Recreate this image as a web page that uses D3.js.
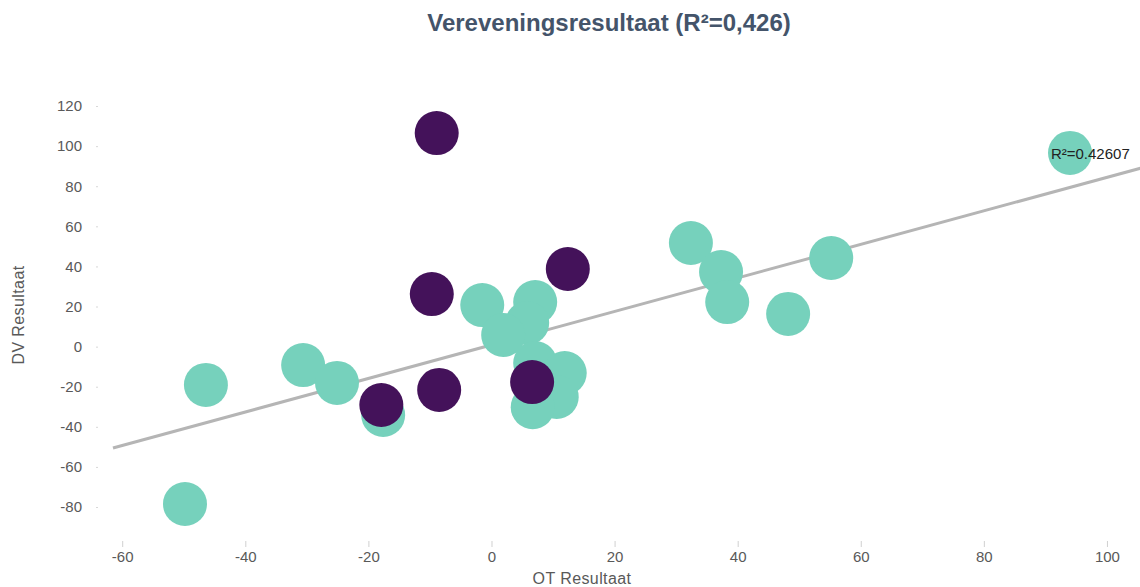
<!DOCTYPE html>
<html>
<head>
<meta charset="utf-8">
<script src="https://cdn.jsdelivr.net/npm/d3@7"></script>
<style>
    body { margin: 0; background: #fff; }
    svg { display: block; font-family: Arial, "Liberation Sans", sans-serif; }
</style>
</head>
<body>
<script>
// OT Resultaat (x), DV Resultaat (y)
const tealX = [94.0, 32.4, 37.3, 38.3, 55.2, 48.2, -1.5, 7.1, 5.8, 1.9, 7.1, 11.9, 10.6, 6.7, -30.6, -25.1, -46.4, -17.6, -49.8];
const tealY = [96.6, 51.7, 37.2, 22.2, 44.2, 16.3, 20.7, 22.2, 11.8, 5.8, -8.2, -13.2, -25.1, -30.2, -9.2, -18.1, -19.1, -34.1, -78.5];
const purpleX = [-8.9, -9.7, 12.4, -17.9, -8.5, 6.6];
const purpleY = [106.5, 26.2, 38.7, -29.1, -21.6, -17.7];

const xTicks = [-60, -40, -20, 0, 20, 40, 60, 80, 100];
const yTicks = [-80, -60, -40, -20, 0, 20, 40, 60, 80, 100, 120];

// trendline
const trendSlope = 0.836;
const trendIntercept = 0.83;
const trendFrom = -61.5, trendTo = 105.5;
const rSquaredLabel = "R²=0.42607";
const rSquaredAt = [97.3, 96];

const titleText = "Vereveningsresultaat (R²=0,426)";

const width = 1140, height = 587;

const svg = d3.select("body").append("svg")
    .attr("width", width)
    .attr("height", height);

const x = d3.scaleLinear()
    .domain([-62, 105.5])
    .range([109.9, 1140.8]);

const y = d3.scaleLinear()
    .domain([-95, 125])
    .range([537.1, 96]);

// plain hyphen for negatives, like the original
const fmt = d => String(d);

// title
svg.append("text")
    .attr("x", 609)
    .attr("y", 31)
    .attr("text-anchor", "middle")
    .attr("font-size", 24)
    .attr("font-weight", "bold")
    .attr("fill", "#44546A")
    .text(titleText);

// axes
const gx = svg.append("g")
    .attr("transform", "translate(0,541)")
    .call(d3.axisBottom(x).tickValues(xTicks).tickSize(6).tickPadding(4).tickFormat(fmt));
gx.select(".domain").remove();
gx.selectAll("line").attr("stroke", "#d0d0d0");
gx.selectAll("text")
    .attr("font-size", 15)
    .attr("fill", "#595959")
    .attr("font-family", "Arial, 'Liberation Sans', sans-serif");

const gy = svg.append("g")
    .attr("transform", "translate(98,0)")
    .call(d3.axisLeft(y).tickValues(yTicks).tickSize(2).tickPadding(14).tickFormat(fmt));
gy.select(".domain").remove();
gy.selectAll("line").attr("stroke", "#d8d8d8");
gy.selectAll("text")
    .attr("font-size", 15)
    .attr("fill", "#595959")
    .attr("font-family", "Arial, 'Liberation Sans', sans-serif");

// axis titles
svg.append("text")
    .attr("x", 582)
    .attr("y", 584)
    .attr("text-anchor", "middle")
    .attr("font-size", 16)
    .attr("letter-spacing", 0.4)
    .attr("fill", "#595959")
    .text("OT Resultaat");

svg.append("text")
    .attr("transform", "translate(24,315) rotate(-90)")
    .attr("text-anchor", "middle")
    .attr("font-size", 16)
    .attr("letter-spacing", 0.4)
    .attr("fill", "#595959")
    .text("DV Resultaat");

// trendline
svg.append("line")
    .attr("x1", x(trendFrom))
    .attr("y1", y(trendSlope * trendFrom + trendIntercept))
    .attr("x2", x(trendTo))
    .attr("y2", y(trendSlope * trendTo + trendIntercept))
    .attr("stroke", "#b5b5b5")
    .attr("stroke-width", 3);

// points
const teal = tealX.map((d, i) => ({x: d, y: tealY[i]}));
const purple = purpleX.map((d, i) => ({x: d, y: purpleY[i]}));

svg.append("g").selectAll("circle")
    .data(teal)
    .enter()
    .append("circle")
    .attr("cx", d => x(d.x))
    .attr("cy", d => y(d.y))
    .attr("r", 22)
    .attr("fill", "#76D1BC");

svg.append("g").selectAll("circle")
    .data(purple)
    .enter()
    .append("circle")
    .attr("cx", d => x(d.x))
    .attr("cy", d => y(d.y))
    .attr("r", 22)
    .attr("fill", "#44125A");

// R² label
svg.append("text")
    .attr("x", x(rSquaredAt[0]))
    .attr("y", y(rSquaredAt[1]))
    .attr("dy", "0.35em")
    .attr("text-anchor", "middle")
    .attr("font-size", 15)
    .attr("fill", "#222")
    .text(rSquaredLabel);
</script>
</body>
</html>
